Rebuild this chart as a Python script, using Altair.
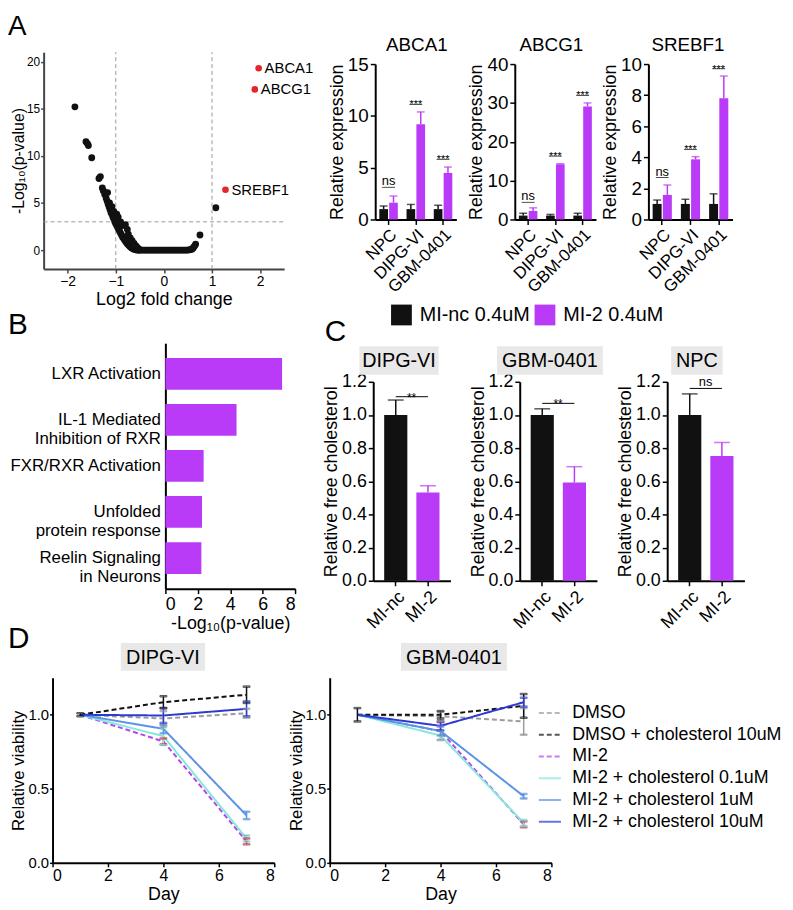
import altair as alt
import pandas as pd

FONT = "Liberation Sans"
BLACK = "#111111"
MAGENTA = "#b93bf7"
HIT_RED = "#e3262b"
ERR_RED = "#e0303a"
BOX_GRAY = "#e8e8e8"
W, H = 785, 902

# ---------------- A: volcano ----------------
volcano_x = [
    -1.85, -1.62, -1.59, -1.57, -1.50, -1.35, -1.32, -1.28, -1.26, -1.23,
    -1.20, -1.18, -1.16, -1.14, -1.12, -1.10, -1.08, -1.06, -1.04, -1.02,
    -1.00, -0.98, -0.96, -0.94, -0.92, -0.90, -0.88, -0.86, -0.84, -0.82,
    -0.80, -0.78, -0.76, -0.74, -0.72, -0.70, -0.68, -0.66, -0.64, -0.62,
    -0.60, -0.58, -0.56, -0.54, -0.52, -0.50,
    -1.22, -1.17, -1.13, -1.08, -1.04, -0.98, -0.95, -0.90, -0.86, -0.80,
    -0.76, -0.74, -0.70, -0.66, -0.62, -0.58, -0.55, -0.52,
    -0.47, -0.44, -0.41, -0.38, -0.35, -0.32, -0.29, -0.26, -0.23, -0.20,
    -0.17, -0.14, -0.11, -0.08, -0.05, -0.02,
    0.01, 0.04, 0.07, 0.10, 0.13, 0.16, 0.19, 0.22, 0.25, 0.28,
    0.31, 0.34, 0.37, 0.40, 0.43, 0.46, 0.49,
    0.52, 0.55, 0.58, 0.60, 0.62, 0.64, 0.66, 0.75, 1.08,
]
volcano_y = [
    15.2, 11.5, 11.3, 11.1, 9.8, 7.6, 7.8, 6.6, 6.3, 5.9,
    5.5, 5.2, 4.9, 4.6, 4.3, 4.0, 3.8, 3.5, 3.3, 3.0,
    2.8, 2.6, 2.4, 2.2, 2.0, 1.8, 1.6, 1.4, 1.25, 1.1,
    0.95, 0.8, 0.68, 0.56, 0.45, 0.36, 0.28, 0.21, 0.15, 0.10,
    0.07, 0.04, 0.02, 0.01, 0.0, 0.0,
    6.1, 6.1, 5.0, 4.6, 4.1, 3.8, 3.5, 3.0, 2.6, 2.7,
    2.2, 1.7, 1.3, 1.0, 0.7, 0.45, 0.25, 0.12,
    0.0, 0.0, 0.0, 0.0, 0.0, 0.0, 0.0, 0.0, 0.0, 0.0,
    0.0, 0.0, 0.0, 0.0, 0.0, 0.0,
    0.0, 0.0, 0.0, 0.0, 0.0, 0.0, 0.0, 0.0, 0.0, 0.0,
    0.0, 0.0, 0.0, 0.0, 0.0, 0.0, 0.0,
    0.02, 0.05, 0.10, 0.18, 0.30, 0.45, 0.62, 1.6, 4.5,
]
hit_genes = ["ABCA1", "ABCG1", "SREBF1"]
hit_x = [1.97, 1.89, 1.28]
hit_y = [19.3, 17.05, 6.4]
volcano_vlines = [-1, 1]
volcano_hline = [3]

# ---------------- A: qPCR bars ----------------
cell_lines = ["NPC", "DIPG-VI", "GBM-0401"]
treatments = ["MI-nc", "MI-2"]
treatment_labels = ["MI-nc 0.4uM", "MI-2 0.4uM"]
sig_labels = ["ns", "***", "***"]

abca1_nc = [1.0, 1.0, 1.0]
abca1_nc_err = [0.3, 0.45, 0.37]
abca1_mi2 = [1.62, 9.2, 4.49]
abca1_mi2_err = [0.64, 1.18, 0.57]
abca1_sig_y = [3.1, 11.1, 5.8]

abcg1_nc = [1.0, 1.0, 1.0]
abcg1_nc_err = [0.6, 0.3, 0.6]
abcg1_mi2 = [2.2, 14.2, 29.1]
abcg1_mi2_err = [0.8, 0.15, 0.9]
abcg1_sig_y = [4.4, 16.3, 31.9]

srebf1_nc = [1.0, 1.0, 1.0]
srebf1_nc_err = [0.25, 0.3, 0.65]
srebf1_mi2 = [1.58, 3.87, 7.8]
srebf1_mi2_err = [0.64, 0.17, 1.43]
srebf1_sig_y = [2.7, 4.5, 9.7]

# ---------------- B: pathways ----------------
pathways = [
    "LXR Activation",
    "IL-1 Mediated\nInhibition of RXR",
    "FXR/RXR Activation",
    "Unfolded\nprotein response",
    "Reelin Signaling\nin Neurons",
]
pathway_logp = [7.2, 4.39, 2.36, 2.26, 2.22]

# ---------------- C: free cholesterol ----------------
chol_dipg = [1.0, 0.533]
chol_dipg_err = [0.09, 0.04]
chol_gbm = [1.0, 0.593]
chol_gbm_err = [0.037, 0.095]
chol_npc = [1.0, 0.752]
chol_npc_err = [0.127, 0.082]
chol_sig_y = [1.11, 1.07, 1.16]
chol_sig = ["**", "**", "ns"]

# ---------------- D: viability ----------------
days = [1, 4, 7]
series = [
    "DMSO",
    "DMSO + cholesterol 10uM",
    "MI-2",
    "MI-2 + cholesterol 0.1uM",
    "MI-2 + cholesterol 1uM",
    "MI-2 + cholesterol 10uM",
]
series_colors = ["#9b9b9b", "#111111", "#b545e8", "#86e8dc", "#5b93e6", "#2c3ad0"]
series_dash = [[5, 3], [5, 3], [5, 3], [1, 0], [1, 0], [1, 0]]

dipg_dmso = [1.0, 0.975, 1.01]
dipg_dmso_err = [0.0, 0.05, 0.03]
dipg_dmso_chol = [1.0, 1.085, 1.135]
dipg_dmso_chol_err = [0.01, 0.04, 0.055]
dipg_mi2 = [1.0, 0.82, 0.145]
dipg_mi2_err = [0.0, 0.02, 0.02]
dipg_mi2_c01 = [1.0, 0.855, 0.165]
dipg_mi2_c01_err = [0.0, 0.06, 0.02]
dipg_mi2_c1 = [1.0, 0.905, 0.32]
dipg_mi2_c1_err = [0.0, 0.03, 0.025]
dipg_mi2_c10 = [1.0, 0.995, 1.04]
dipg_mi2_c10_err = [0.0, 0.05, 0.05]

gbm_dmso = [1.0, 0.99, 0.955]
gbm_dmso_err = [0.0, 0.03, 0.09]
gbm_dmso_chol = [1.0, 1.0, 1.06]
gbm_dmso_chol_err = [0.045, 0.025, 0.08]
gbm_mi2 = [1.0, 0.89, 0.26]
gbm_mi2_err = [0.0, 0.06, 0.02]
gbm_mi2_c01 = [1.0, 0.86, 0.27]
gbm_mi2_c01_err = [0.0, 0.03, 0.02]
gbm_mi2_c1 = [1.0, 0.89, 0.45]
gbm_mi2_c1_err = [0.0, 0.03, 0.015]
gbm_mi2_c10 = [1.0, 0.925, 1.085]
gbm_mi2_c10_err = [0.0, 0.03, 0.03]


# ---------------- helpers ----------------
def xax(ybot, **kw):
    return alt.Axis(orient="bottom", offset=ybot - H, **kw)


def yax(xleft, **kw):
    return alt.Axis(orient="left", offset=-xleft, **kw)


def free_text(label, x, y, size, align="center", baseline="alphabetic"):
    return alt.Chart(pd.DataFrame({"t": [label]})).mark_text(
        fontSize=size, align=align, baseline=baseline, font=FONT, color="black"
    ).encode(x=alt.value(x), y=alt.value(y), text="t:N")


def boxed_title(label, x1, x2, y1, y2, size=20):
    df = pd.DataFrame({"t": [label]})
    box = alt.Chart(df).mark_rect(color=BOX_GRAY).encode(
        x=alt.value(x1), x2=alt.value(x2), y=alt.value(y1), y2=alt.value(y2)
    )
    txt = alt.Chart(df).mark_text(fontSize=size, font=FONT, align="center", baseline="middle", color="black").encode(
        x=alt.value((x1 + x2) / 2), y=alt.value((y1 + y2) / 2 + 1), text="t:N"
    )
    return [box, txt]


# ---------------- volcano ----------------
VX = alt.Scale(domain=[-2.5, 2.5], range=[36, 279], nice=False, zero=False)
VY = alt.Scale(domain=[-2, 21], range=[259, 40], nice=False, zero=False)
vxa = xax(259, title="Log2 fold change", values=[-2, -1, 0, 1, 2], labelFontSize=14,
          titleFontSize=18, domainColor="#444", tickColor="#444", titlePadding=2, tickSize=4)
vya = yax(36, title="-Log₁₀(p-value)", values=[0, 5, 10, 15, 20], labelFontSize=12,
          titleFontSize=16, domainColor="#444", tickColor="#444", titlePadding=0, tickSize=3,
          labelPadding=1)


def vx(f):
    return alt.X(f, scale=VX, axis=vxa)


def vy(f):
    return alt.Y(f, scale=VY, axis=vya)


vol_df = pd.DataFrame({"lfc": volcano_x, "nlp": volcano_y})
hit_df = pd.DataFrame({"lfc": hit_x, "nlp": hit_y, "gene": hit_genes})
vline_df = pd.DataFrame({"lfc": volcano_vlines, "nlp": [-2, -2], "nlp2": [21, 21]})
hline_df = pd.DataFrame({"lfc": [-2.5], "lfc2": [2.5], "nlp": volcano_hline})

volcano = alt.layer(
    alt.Chart(vline_df).mark_rule(color="#999", strokeDash=[4, 3], strokeWidth=1).encode(
        x=vx("lfc:Q"), y=vy("nlp:Q"), y2=alt.Y2("nlp2")),
    alt.Chart(hline_df).mark_rule(color="#999", strokeDash=[4, 3], strokeWidth=1).encode(
        x=vx("lfc:Q"), x2=alt.X2("lfc2"), y=vy("nlp:Q")),
    alt.Chart(vol_df).mark_circle(size=48, color=BLACK, opacity=1).encode(x=vx("lfc:Q"), y=vy("nlp:Q")),
    alt.Chart(hit_df).mark_circle(size=45, color=HIT_RED, opacity=1).encode(x=vx("lfc:Q"), y=vy("nlp:Q")),
    alt.Chart(hit_df).mark_text(align="left", baseline="middle", dx=6, fontSize=15, font=FONT, color="black").encode(
        x=vx("lfc:Q"), y=vy("nlp:Q"), text="gene:N"),
)


# ---------------- qPCR bar panels ----------------
def expr_panel(nc, nc_err, mi2, mi2_err, ymax, yticks, sig_y, xr):
    df = pd.DataFrame({
        "cell": cell_lines * 2,
        "trt": [treatments[0]] * 3 + [treatments[1]] * 3,
        "val": nc + mi2,
        "err": nc_err + mi2_err,
    })
    df["top"] = df["val"] + df["err"]
    XS = alt.Scale(domain=cell_lines, range=xr, paddingInner=0.32, paddingOuter=0.15)
    YS = alt.Scale(domain=[0, ymax], range=[209, 52], nice=False)
    xa = xax(209, title=None, labelAngle=-45, labelFontSize=17)
    ya = yax(xr[0], title="Relative expression", values=yticks, labelFontSize=19,
             titleFontSize=18, titlePadding=1)
    X = alt.X("cell:N", scale=XS, axis=xa)
    XO = alt.XOffset("trt:N", scale=alt.Scale(domain=treatments, paddingInner=0.12))

    def Y(f):
        return alt.Y(f, scale=YS, axis=ya, stack=None)

    C = alt.Color("trt:N", scale=alt.Scale(domain=treatments, range=[BLACK, MAGENTA]), legend=None)
    base = alt.Chart(df)
    sig_df = pd.DataFrame({"cell": cell_lines, "sy": sig_y, "lab": sig_labels})
    return alt.layer(
        base.mark_bar().encode(x=X, xOffset=XO, y=Y("val:Q"), color=C),
        base.mark_rule(strokeWidth=1.5).encode(x=X, xOffset=XO, y=Y("val:Q"), y2=alt.Y2("top"), color=C),
        base.mark_tick(orient="horizontal", size=8, thickness=1.5).encode(x=X, xOffset=XO, y=Y("top:Q"), color=C),
        alt.Chart(sig_df).mark_tick(orient="horizontal", size=13, thickness=1, color="black").encode(
            x=X, y=Y("sy:Q")),
        alt.Chart(sig_df).transform_filter("datum.lab == 'ns'").mark_text(
            fontSize=13, baseline="alphabetic", dy=-2, font=FONT, color="black").encode(
            x=X, y=Y("sy:Q"), text="lab:N"),
        alt.Chart(sig_df).transform_filter("datum.lab != 'ns'").mark_text(
            fontSize=11, baseline="alphabetic", dy=4, font=FONT, color="black").encode(
            x=X, y=Y("sy:Q"), text="lab:N"),
    )


abca1 = expr_panel(abca1_nc, abca1_nc_err, abca1_mi2, abca1_mi2_err, 15, [0, 5, 10, 15],
                   abca1_sig_y, [371, 453])
abcg1 = expr_panel(abcg1_nc, abcg1_nc_err, abcg1_mi2, abcg1_mi2_err, 40, [0, 10, 20, 30, 40],
                   abcg1_sig_y, [512, 594])
srebf1 = expr_panel(srebf1_nc, srebf1_nc_err, srebf1_mi2, srebf1_mi2_err, 10, [0, 2, 4, 6, 8, 10],
                    srebf1_sig_y, [647, 732])

# ---------------- pathway panel ----------------
BX = alt.Scale(domain=[0, 8], range=[159, 290], nice=False)
BY = alt.Scale(domain=pathways, range=[334, 582], paddingInner=0.31, paddingOuter=0.32)
bxa = xax(582, title="-Log₁₀(p-value)", values=[0, 2, 4, 6, 8], labelFontSize=18,
          titleFontSize=18, titlePadding=1)
bya = yax(159, title=None, ticks=False, labelFontSize=17, labelPadding=5, labelLimit=260,
          labelLineHeight=19, labelExpr="split(datum.label, '\\n')")
path_df = pd.DataFrame({"pathway": pathways, "logp": pathway_logp})
pathway = alt.Chart(path_df).mark_bar(color=MAGENTA).encode(
    x=alt.X("logp:Q", scale=BX, axis=bxa),
    y=alt.Y("pathway:N", scale=BY, axis=bya),
)

# ---------------- cholesterol panels ----------------
C_LEGEND = alt.Legend(orient="none", legendX=387, legendY=295, direction="horizontal", title=None,
                      symbolType="square", symbolSize=441, symbolStrokeWidth=0, symbolOpacity=1,
                      labelFontSize=20, labelFont=FONT, labelColor="black", labelLimit=300,
                      columnPadding=4, labelOffset=8, padding=0)


def chol_panel(vals, errs, sig_y, sig_label, xr, with_legend=False):
    df = pd.DataFrame({"trt": treatments, "trt_label": treatment_labels, "val": vals, "err": errs})
    df["top"] = df["val"] + df["err"]
    XS = alt.Scale(domain=treatments, range=xr, paddingInner=0.28, paddingOuter=0.34)
    YS = alt.Scale(domain=[0, 1.2], range=[574, 373], nice=False)
    xa = xax(574, title=None, labelAngle=-45, labelFontSize=18)
    ya = yax(xr[0], title="Relative free cholesterol", values=[0, 0.2, 0.4, 0.6, 0.8, 1.0, 1.2],
             format=".1f", labelFontSize=18, titleFontSize=18, titlePadding=1)
    X = alt.X("trt:N", scale=XS, axis=xa)

    def Y(f):
        return alt.Y(f, scale=YS, axis=ya)

    cscale = alt.Scale(domain=treatments, range=[BLACK, MAGENTA])
    C = alt.Color("trt:N", scale=cscale, legend=None)
    if with_legend:
        bars = alt.Chart(df).mark_bar().encode(
            x=X, y=Y("val:Q"),
            fill=alt.Fill("trt_label:N", scale=alt.Scale(domain=treatment_labels, range=[BLACK, MAGENTA]),
                          legend=C_LEGEND))
    else:
        bars = alt.Chart(df).mark_bar().encode(x=X, y=Y("val:Q"), color=C)
    sig_df = pd.DataFrame({"trt": [treatments[0]], "trt2": [treatments[1]], "sy": [sig_y], "lab": [sig_label]})
    return alt.layer(
        bars,
        alt.Chart(df).mark_rule(strokeWidth=1.5).encode(x=X, y=Y("val:Q"), y2=alt.Y2("top"), color=C),
        alt.Chart(df).mark_tick(orient="horizontal", size=16, thickness=1.5).encode(x=X, y=Y("top:Q"), color=C),
        alt.Chart(sig_df).mark_rule(color="black", strokeWidth=1).encode(x=X, x2=alt.X2("trt2"), y=Y("sy:Q")),
        alt.Chart(sig_df).mark_text(fontSize=13 if sig_label == "ns" else 12, baseline="alphabetic",
                                    dy=-2 if sig_label == "ns" else 5, dx=16, font=FONT, color="black").encode(
            x=X, y=Y("sy:Q"), text="lab:N"),
    )


c_dipg = chol_panel(chol_dipg, chol_dipg_err, chol_sig_y[0], chol_sig[0], [369, 447], with_legend=True)
c_gbm = chol_panel(chol_gbm, chol_gbm_err, chol_sig_y[1], chol_sig[1], [517, 595])
c_npc = chol_panel(chol_npc, chol_npc_err, chol_sig_y[2], chol_sig[2], [666, 744])

# ---------------- viability panels ----------------
D_LEGEND = alt.Legend(orient="none", legendX=535, legendY=695, title=None, symbolType="stroke",
                      symbolSize=500, symbolStrokeWidth=2, labelFontSize=18, labelFont=FONT,
                      labelColor="black", labelLimit=400, rowPadding=0, labelOffset=10, padding=0)


def viab_panel(values, errors, x0):
    rows = []
    for s in series:
        for i, d in enumerate(days):
            rows.append({"series": s, "day": d, "val": values[s][i], "err": errors[s][i]})
    df = pd.DataFrame(rows)
    df["lo"] = df["val"] - df["err"]
    df["hi"] = df["val"] + df["err"]
    err_df = df[df["err"] > 0]
    DX = alt.Scale(domain=[0, 8], range=[x0, x0 + 224], nice=False)
    DY = alt.Scale(domain=[0, 1.25], range=[859, 672], nice=False)
    xa = xax(859, title="Day", values=[0, 2, 4, 6, 8], labelFontSize=16, titleFontSize=18,
             titlePadding=2, labelPadding=1, tickSize=4)
    ya = yax(x0, title="Relative viability", values=[0, 0.5, 1.0], format=".1f", labelFontSize=15,
             titleFontSize=17, titlePadding=0, labelPadding=1, tickSize=3)
    X = alt.X("day:Q", scale=DX, axis=xa)

    def Y(f):
        return alt.Y(f, scale=DY, axis=ya)

    S = alt.Stroke("series:N", scale=alt.Scale(domain=series, range=series_colors), legend=D_LEGEND)
    SD = alt.StrokeDash("series:N", scale=alt.Scale(domain=series, range=series_dash), legend=D_LEGEND)
    ES = alt.condition("datum.series == 'MI-2'", alt.value(ERR_RED), S)
    return alt.layer(
        alt.Chart(df).mark_line(strokeWidth=2).encode(x=X, y=Y("val:Q"), stroke=S, strokeDash=SD),
        alt.Chart(err_df).mark_rule(strokeWidth=1.5).encode(x=X, y=Y("lo:Q"), y2=alt.Y2("hi"), stroke=ES),
        alt.Chart(err_df).mark_tick(orient="horizontal", size=7, thickness=1.5).encode(x=X, y=Y("hi:Q"), stroke=ES),
        alt.Chart(err_df).mark_tick(orient="horizontal", size=7, thickness=1.5).encode(x=X, y=Y("lo:Q"), stroke=ES),
    )


dipg_vals = dict(zip(series, [dipg_dmso, dipg_dmso_chol, dipg_mi2, dipg_mi2_c01, dipg_mi2_c1, dipg_mi2_c10]))
dipg_errs = dict(zip(series, [dipg_dmso_err, dipg_dmso_chol_err, dipg_mi2_err, dipg_mi2_c01_err,
                              dipg_mi2_c1_err, dipg_mi2_c10_err]))
gbm_vals = dict(zip(series, [gbm_dmso, gbm_dmso_chol, gbm_mi2, gbm_mi2_c01, gbm_mi2_c1, gbm_mi2_c10]))
gbm_errs = dict(zip(series, [gbm_dmso_err, gbm_dmso_chol_err, gbm_mi2_err, gbm_mi2_c01_err,
                             gbm_mi2_c1_err, gbm_mi2_c10_err]))

d_dipg = viab_panel(dipg_vals, dipg_errs, 45)
d_gbm = viab_panel(gbm_vals, gbm_errs, 325)

# ---------------- decorations ----------------
decor = [
    free_text("A", 0, 23, 28, align="left"),
    free_text("B", 0, 325, 30, align="left"),
    free_text("C", 320, 332, 30, align="left"),
    free_text("D", 0, 642, 30, align="left"),
    free_text("ABCA1", 413, 39, 19),
    free_text("ABCG1", 549, 39, 19),
    free_text("SREBF1", 687, 39, 19),
]
decor += boxed_title("DIPG-VI", 355, 435, 337, 366)
decor += boxed_title("GBM-0401", 494, 601, 337, 366)
decor += boxed_title("NPC", 670, 722, 337, 366)
decor += boxed_title("DIPG-VI", 114, 199, 637, 665)
decor += boxed_title("GBM-0401", 397, 504, 637, 665)

chart = alt.layer(
    volcano, abca1, abcg1, srebf1, pathway, c_dipg, c_gbm, c_npc, d_dipg, d_gbm, *decor
).resolve_scale(
    x="independent", y="independent", xOffset="independent"
).properties(
    width=W, height=H, padding=0, autosize=alt.AutoSizeParams(type="none")
).configure_view(
    stroke=None
).configure_axis(
    grid=False, labelFont=FONT, titleFont=FONT, labelColor="black", titleColor="black",
    domainColor="black", tickColor="black", domainWidth=2, tickWidth=1.5, tickSize=5,
    labelPadding=2, titleFontWeight="normal"
).configure_text(font=FONT)

chart.save("out.html", embed_options={"renderer": "svg", "actions": False})
